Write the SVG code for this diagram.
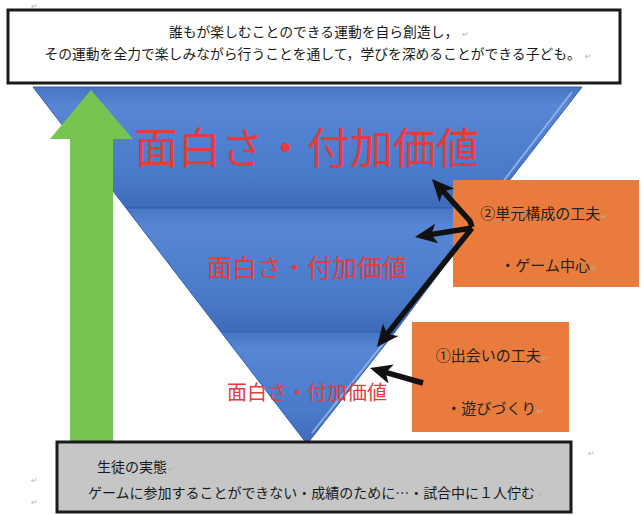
<svg xmlns="http://www.w3.org/2000/svg" width="644" height="516" viewBox="0 0 644 516">
<style>
.jp{font-family:"Noto Sans CJK JP","Noto Sans",sans-serif;}
.box{font-size:13.8px;fill:#1a1a1a;}
.org{font-size:15px;fill:#222;}
.red{fill:#e53b3e;text-anchor:middle;}
.ret{font-family:"DejaVu Sans",sans-serif;fill:#b5b5b5;font-size:8px;}
.band{stroke:#3560a8;stroke-width:1;}
.hl{stroke:#9dc0ee;stroke-width:2;fill:none;opacity:0.75;}
.arr{stroke:#111;stroke-width:5.5;fill:none;stroke-linecap:butt;stroke-linejoin:round;marker-end:url(#ah);}
</style>
<defs>
<linearGradient id="gb" x1="0" y1="0" x2="0" y2="1">
<stop offset="0" stop-color="#4675c4"/>
<stop offset="0.15" stop-color="#5686d4"/>
<stop offset="0.7" stop-color="#4a7bcb"/>
<stop offset="1" stop-color="#3e6bb9"/>
</linearGradient>
<marker id="ah" viewBox="0 0 10 10" refX="3" refY="5" markerWidth="4" markerHeight="4" orient="auto" markerUnits="strokeWidth">
<path d="M0,0.5 L10,5 L0,9.5 L2.5,5 Z" fill="#111"/>
</marker>
</defs>

<text class="ret" x="31" y="9">↵</text>

<g id="pyramid">
<g id="band1">
<polygon class="band" points="33,87 582,87 488,208 126,208" fill="url(#gb)"/>
<line class="hl" x1="572" y1="92" x2="495" y2="192"/>
<text class="jp red" x="307" y="164" font-size="43">面白さ・付加価値</text>
</g>
<g id="band2">
<polygon class="band" points="126,208 488,208 395,332 221,332" fill="url(#gb)"/>
<text class="jp red" x="307" y="276.5" font-size="25">面白さ・付加価値</text>
</g>
<g id="band3">
<polygon class="band" points="221,332 395,332 307,444" fill="url(#gb)"/>
<line class="hl" x1="386" y1="340" x2="312" y2="433"/>
<text class="jp red" x="307" y="400" font-size="20">面白さ・付加価値</text>
</g>
</g>

<g id="green-arrow">
<polygon points="91,90 133,139 113,139 113,445 70,445 70,139 50,139" fill="#77c452"/>
</g>

<g id="goal">
<rect x="8" y="10" width="612" height="73" fill="#fff" stroke="#1a1a1a" stroke-width="3"/>
<text class="jp box" x="319" y="37" text-anchor="middle">誰もが楽しむことのできる運動を自ら創造し，<tspan class="ret" dx="4">↵</tspan></text>
<text class="jp box" x="318" y="58.5" text-anchor="middle">その運動を全力で楽しみながら行うことを通して，学びを深めることができる子ども。<tspan class="ret" dx="4">↵</tspan></text>
</g>

<g id="unit">
<rect x="453" y="180" width="186" height="107" fill="#e97c3c"/>
<text class="jp org" x="544" y="219" text-anchor="middle">②単元構成の工夫<tspan class="ret" dx="1">↵</tspan></text>
<text class="jp org" x="549" y="270.5" text-anchor="middle" font-size="14.5">・ゲーム中心<tspan class="ret" dx="1">↵</tspan></text>
</g>

<g id="encounter">
<rect x="412" y="322" width="157" height="110" fill="#e97c3c"/>
<text class="jp org" x="492" y="361" text-anchor="middle">①出会いの工夫<tspan class="ret" dx="1">↵</tspan></text>
<text class="jp org" x="495" y="413.5" text-anchor="middle" font-size="14">・遊びづくり<tspan class="ret" dx="1">↵</tspan></text>
</g>

<g id="connectors">
<polyline class="arr" points="472,227 470,221 442.3,190.4"/>
<polyline class="arr" points="472,228 430.2,234.6"/>
<polyline class="arr" points="472,228 386.5,334.9"/>
<polyline class="arr" points="423,383 384.8,372.2"/>
</g>

<g id="status">
<rect x="57" y="442" width="514" height="70" fill="#c6c6c6" stroke="#1a1a1a" stroke-width="3"/>
<text class="jp" x="97" y="472" font-size="14" fill="#1a1a1a">生徒の実態<tspan class="ret" dx="1">↵</tspan></text>
<text class="jp" x="88" y="497.5" font-size="14" fill="#1a1a1a" textLength="447">ゲームに参加することができない・成績のために…・試合中に１人佇む</text>
<text class="ret" x="537" y="497">↵</text>
</g>

<text class="ret" x="588" y="456">↵</text>
<text class="ret" x="31" y="483">↵</text>
<text class="ret" x="31" y="505">↵</text>
</svg>
